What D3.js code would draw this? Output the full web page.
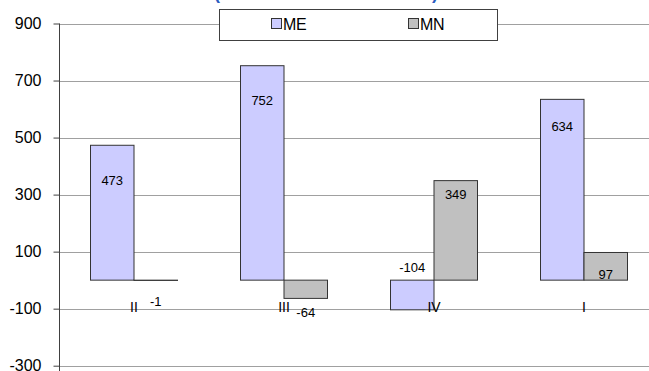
<!DOCTYPE html>
<html>
<head>
<meta charset="utf-8">
<script src="https://cdn.jsdelivr.net/npm/d3@7"></script>
<style>
  html, body { margin: 0; padding: 0; background: #fff; }
  svg { display: block; font-family: "Liberation Sans", Arial, sans-serif; }
</style>
</head>
<body>
<script>
// Quarterly ME / MN figures
const categories = ["II", "III", "IV", "I"];
const seriesNames = ["ME", "MN"];
const meValues = [473, 752, -104, 634];
const mnValues = [-1, -64, 349, 97];
const yTicks = [900, 700, 500, 300, 100, -100, -300];

// Vertical placement of each value label, in px from the bar end
const meLabelDy = [35, 35, -42, 27];
const mnLabelDy = [21, 14, 14, 22];

const width = 649, height = 371;
const colors = { ME: "#ccccff", MN: "#c0c0c0" };

const svg = d3.select("body").append("svg")
  .attr("width", width).attr("height", height);
svg.append("rect").attr("width", width).attr("height", height).attr("fill", "#fff");

const axisX = 59;
const y = d3.scaleLinear().domain([-300, 900]).range([365.7, 23.5]);
const x0 = d3.scaleBand().domain(categories).range([axisX, axisX + 600])
  .paddingInner(0.42).paddingOuter(0.21);
const x1 = d3.scaleBand().domain(seriesNames).range([0, x0.bandwidth()]);

// Gridlines
svg.append("g").selectAll("line").data(yTicks).join("line")
  .attr("x1", axisX).attr("x2", width)
  .attr("y1", d => Math.round(y(d)) + 0.5).attr("y2", d => Math.round(y(d)) + 0.5)
  .attr("stroke", "#a0a0a0").attr("stroke-width", 1);

// Y axis with outward ticks (plain hyphen for negatives)
const yAxis = d3.axisLeft(y).tickValues(yTicks).tickSize(6).tickPadding(12)
  .tickFormat(d => String(d));
const gy = svg.append("g").attr("transform", `translate(${axisX + 0.5},0)`).call(yAxis);
gy.select(".domain").attr("stroke", "#404040").attr("d", `M0,${y(900)}V${height}`);
gy.selectAll(".tick line").attr("stroke", "#404040");
gy.selectAll(".tick text").attr("font-size", 16).attr("fill", "#000")
  .attr("font-family", "'Liberation Sans', Arial, sans-serif");

// Bars
const rows = categories.map((c, i) => ({
  cat: c,
  items: [
    { key: "ME", value: meValues[i], dy: meLabelDy[i] },
    { key: "MN", value: mnValues[i], dy: mnLabelDy[i] }
  ]
}));

const groups = svg.append("g").selectAll("g").data(rows).join("g")
  .attr("transform", d => `translate(${x0(d.cat)},0)`);

groups.selectAll("rect").data(d => d.items).join("rect")
  .attr("x", d => x1(d.key))
  .attr("width", x1.bandwidth())
  .attr("y", d => Math.min(y(d.value), y(0)))
  .attr("height", d => Math.abs(y(d.value) - y(0)))
  .attr("fill", d => colors[d.key])
  .attr("stroke", "#333").attr("stroke-width", 1);

groups.selectAll("text.val").data(d => d.items).join("text")
  .attr("class", "val")
  .attr("x", d => x1(d.key) + x1.bandwidth() / 2)
  .attr("y", d => y(d.value) + d.dy)
  .attr("dy", "0.35em")
  .attr("text-anchor", "middle")
  .attr("font-size", 13).attr("fill", "#000")
  .text(d => d.value);

// Category labels
svg.append("g").selectAll("text").data(categories).join("text")
  .attr("x", d => x0(d) + x0.bandwidth() / 2)
  .attr("y", y(-100) + 3.5)
  .attr("text-anchor", "middle")
  .attr("font-size", 14).attr("fill", "#000")
  .text(d => d);

// Title (mostly above the visible area)
svg.append("text").attr("x", 217).attr("y", -1).attr("text-anchor", "middle")
  .attr("font-size", 18).attr("font-weight", "bold").attr("fill", "#2a5cc0").text("(");
svg.append("text").attr("x", 435).attr("y", -1).attr("text-anchor", "middle")
  .attr("font-size", 18).attr("font-weight", "bold").attr("fill", "#2a5cc0").text(")");

// Legend
const legend = svg.append("g");
legend.append("rect").attr("x", 219.5).attr("y", 9.5).attr("width", 278).attr("height", 31)
  .attr("fill", "#fff").attr("stroke", "#404040");
const legendX = [271, 408];
const li = legend.selectAll("g").data(seriesNames).join("g")
  .attr("transform", (d, i) => `translate(${legendX[i]},0)`);
li.append("rect").attr("x", 0.5).attr("y", 18.5).attr("width", 10).attr("height", 10)
  .attr("fill", d => colors[d]).attr("stroke", "#333");
li.append("text").attr("x", 12).attr("y", 29.5).attr("font-size", 16)
  .attr("fill", "#000").attr("letter-spacing", "-0.3").text(d => d);
</script>
</body>
</html>
